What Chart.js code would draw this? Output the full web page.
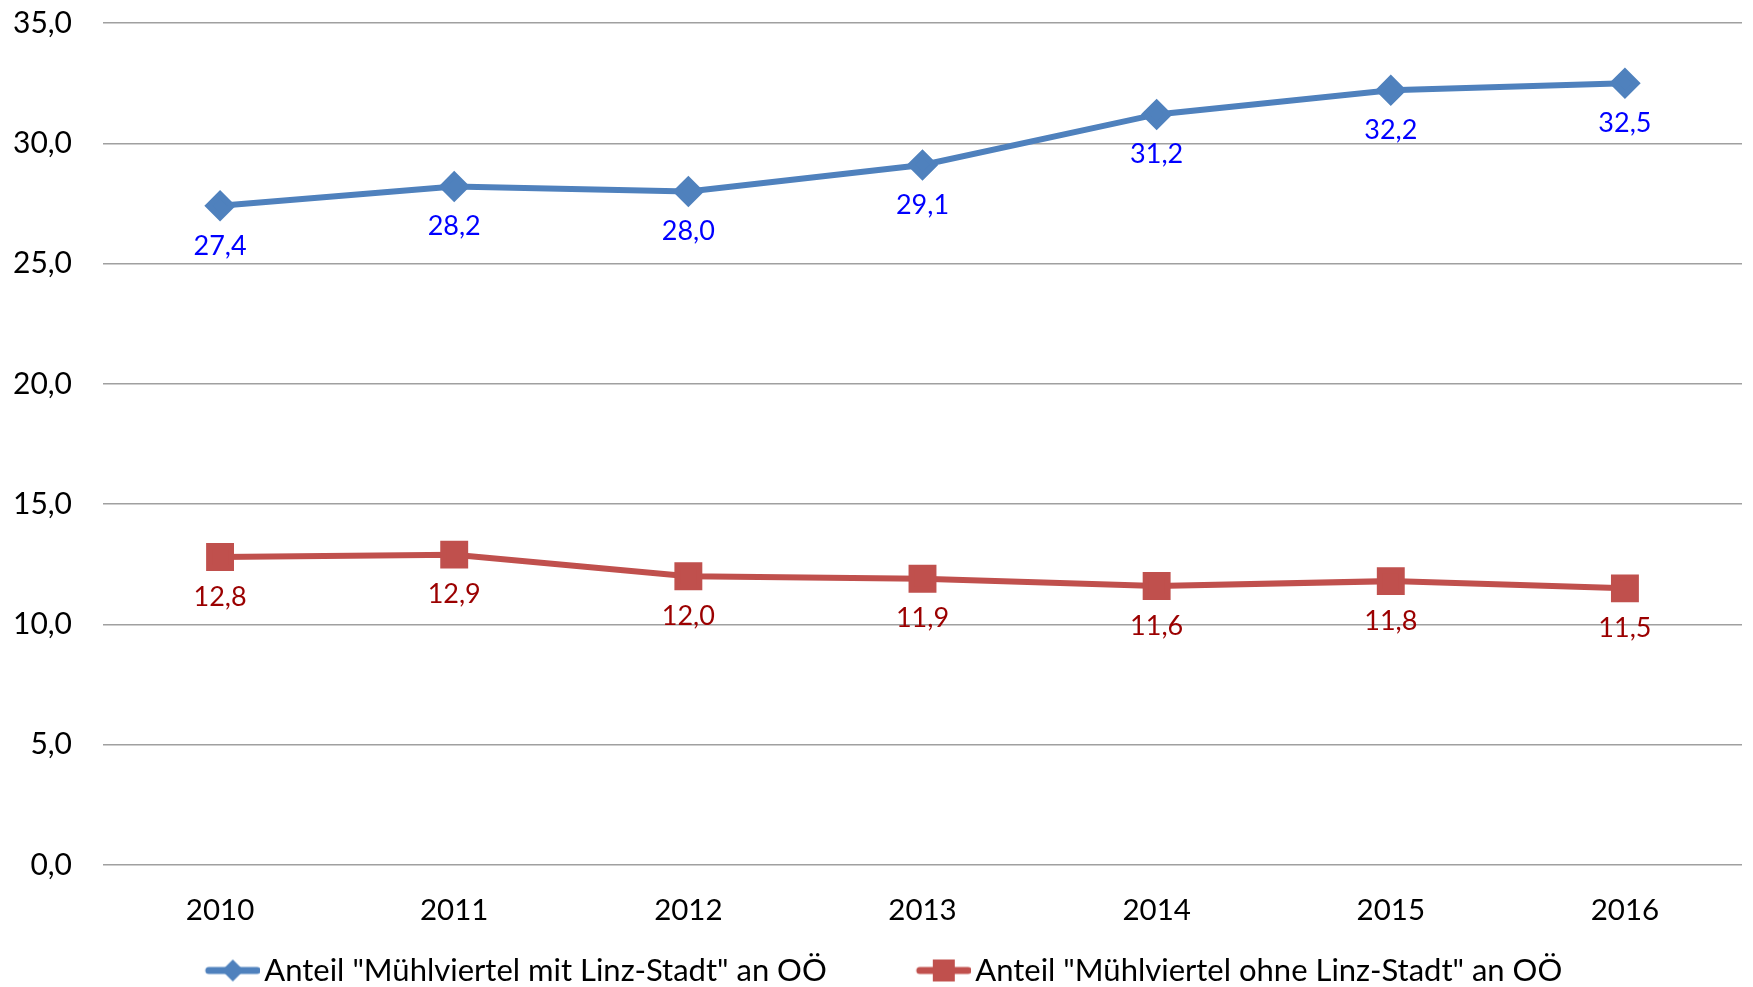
<!DOCTYPE html>
<html>
<head>
<meta charset="UTF-8">
<title>Mühlviertel Anteil an OÖ</title>
<script src="https://cdn.jsdelivr.net/npm/chart.js@4/dist/chart.umd.min.js"></script>
<style>
  html, body { margin: 0; padding: 0; background: #fff; overflow: hidden; }
  .wrap { position: relative; width: 1753px; height: 987px; }
  canvas { display: block; }
</style>
</head>
<body>
<div class="wrap"><canvas id="c"></canvas></div>
<script>
// Daten
const years = ['2010', '2011', '2012', '2013', '2014', '2015', '2016'];
const mitLinz = [27.4, 28.2, 28.0, 29.1, 31.2, 32.2, 32.5];
const ohneLinz = [12.8, 12.9, 12.0, 11.9, 11.6, 11.8, 11.5];
const seriesNames = ['Anteil "Mühlviertel mit Linz-Stadt" an OÖ', 'Anteil "Mühlviertel ohne Linz-Stadt" an OÖ'];

const BLUE = '#4F81BD';
const RED = '#C0504D';
const FONT = 'Lato, "Open Sans", sans-serif';

const fmt = v => v.toFixed(1).replace('.', ',');

// Legend-Symbol: Linie mit Marker (wie Excel)
const ICON_W = 131 + 22;
function legendIcon(color, shape) {
  const cv = document.createElement('canvas');
  cv.width = ICON_W; cv.height = 30;
  const g = cv.getContext('2d');
  const x0 = ICON_W - 54, x1 = ICON_W, cy = 15, mx = (x0 + x1) / 2;
  g.strokeStyle = color; g.lineWidth = 7; g.lineCap = 'round';
  g.beginPath(); g.moveTo(x0 + 3, cy); g.lineTo(x1 - 3, cy); g.stroke();
  g.fillStyle = color;
  g.beginPath();
  if (shape === 'diamond') {
    g.moveTo(mx, cy - 11); g.lineTo(mx + 11, cy); g.lineTo(mx, cy + 11); g.lineTo(mx - 11, cy);
  } else {
    g.rect(mx - 11, cy - 11, 22, 22);
  }
  g.fill();
  return cv;
}
const icons = [legendIcon(BLUE, 'diamond'), legendIcon(RED, 'square')];

// Datenbeschriftungen unter den Punkten
const valueLabels = {
  id: 'valueLabels',
  afterDatasetsDraw(chart) {
    const ctx = chart.ctx;
    ctx.save();
    ctx.font = '27px ' + FONT;
    ctx.textAlign = 'center';
    ctx.textBaseline = 'middle';
    chart.data.datasets.forEach((ds, i) => {
      const meta = chart.getDatasetMeta(i);
      ctx.fillStyle = ds.labelColor;
      meta.data.forEach((pt, j) => {
        ctx.fillText(fmt(ds.data[j]), pt.x, pt.y + 40);
      });
    });
    ctx.restore();
  }
};

// Legende etwas verschieben (wie im Original)
const legendShift = {
  id: 'legendShift',
  afterLayout(chart) {
    const lg = chart.legend;
    lg.left -= 31; lg.right -= 31;
    lg.top += 9; lg.bottom += 9;
  }
};

new Chart(document.getElementById('c'), {
  type: 'line',
  data: {
    labels: years,
    datasets: [{
      label: seriesNames[0],
      data: mitLinz,
      borderColor: BLUE,
      backgroundColor: BLUE,
      borderWidth: 6,
      pointStyle: 'rectRot',
      pointRadius: 11.5,
      pointHoverRadius: 11.5,
      labelColor: '#0000FF',
      legendIcon: icons[0]
    }, {
      label: seriesNames[1],
      data: ohneLinz,
      borderColor: RED,
      backgroundColor: RED,
      borderWidth: 6,
      pointStyle: 'rect',
      pointRadius: 15.5,
      pointHoverRadius: 15.5,
      labelColor: '#9B0000',
      legendIcon: icons[1]
    }]
  },
  options: {
    responsive: true,
    maintainAspectRatio: false,
    animation: false,
    layout: { autoPadding: false, padding: { top: 23, right: 11, left: 0, bottom: 0 } },
    plugins: {
      tooltip: { enabled: false },
      legend: {
        position: 'bottom',
        labels: {
          usePointStyle: true,
          pointStyleWidth: 131,
          padding: 2,
          color: '#000',
          font: { family: FONT, size: 31 },
          generateLabels(chart) {
            return chart.data.datasets.map((ds, i) => ({
              text: ds.label,
              pointStyle: ds.legendIcon,
              fillStyle: ds.borderColor,
              strokeStyle: ds.borderColor,
              lineWidth: 0,
              fontColor: '#000',
              datasetIndex: i,
              hidden: false
            }));
          }
        }
      }
    },
    scales: {
      x: {
        offset: true,
        grid: { display: false },
        border: { display: false },
        ticks: { color: '#000', font: { family: FONT, size: 29.5 }, padding: 19.5 },
        afterFit(scale) {
          scale.height = 79;
          scale.paddingLeft = 0;
          scale.paddingRight = 0;
        }
      },
      y: {
        min: 0,
        max: 35,
        grid: { color: '#A0A0A0', lineWidth: 1.5, drawTicks: false },
        border: { display: false },
        ticks: {
          stepSize: 5,
          padding: 31,
          color: '#000',
          font: { family: FONT, size: 30 },
          callback: v => fmt(v)
        },
        afterFit(scale) {
          scale.width = 103;
          scale.paddingTop = 0;
          scale.paddingBottom = 0;
        }
      }
    }
  },
  plugins: [valueLabels, legendShift]
});
</script>
</body>
</html>
